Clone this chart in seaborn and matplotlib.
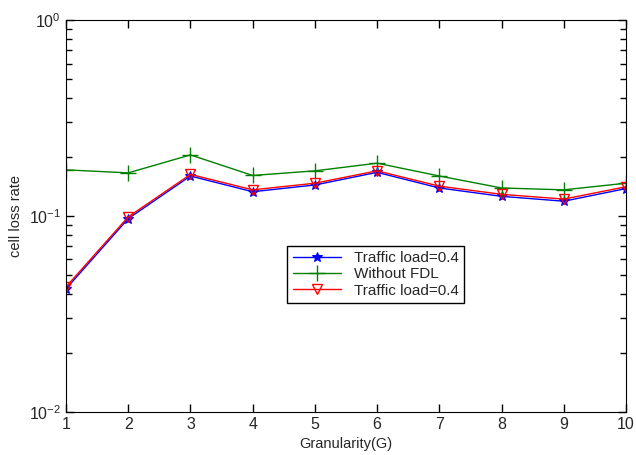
import numpy as np
import pandas as pd
import seaborn as sns
import matplotlib.pyplot as plt
from matplotlib.ticker import FixedLocator, NullFormatter

# data
granularity = [1, 2, 3, 4, 5, 6, 7, 8, 9, 10]
load_blue = [0.0425, 0.097, 0.160, 0.133, 0.144, 0.167, 0.139, 0.126, 0.119, 0.138]
without_fdl = [0.172, 0.166, 0.205, 0.161, 0.170, 0.186, 0.160, 0.139, 0.136, 0.147]
load_red = [0.0435, 0.099, 0.163, 0.136, 0.147, 0.170, 0.142, 0.129, 0.122, 0.141]

df = pd.DataFrame({'G': granularity, 'blue': load_blue,
                   'green': without_fdl, 'red': load_red})

sns.set_style('ticks')
plt.rcParams['font.family'] = ['Liberation Sans', 'DejaVu Sans']

fig = plt.figure(figsize=(6.36, 4.55), dpi=100)
ax = fig.add_axes([0.1038, 0.0945, 0.8805, 0.8615])

sns.lineplot(data=df, x='G', y='blue', ax=ax, color='blue', marker='*',
             markersize=7, markeredgecolor='blue', markeredgewidth=0.8,
             linewidth=1, label='Traffic load=0.4')
sns.lineplot(data=df, x='G', y='green', ax=ax, color='green', marker='+',
             markersize=11, markeredgecolor='green', markeredgewidth=1,
             linewidth=1, label='Without FDL')
sns.lineplot(data=df, x='G', y='red', ax=ax, color='red', marker='v',
             markersize=6.5, markerfacecolor='none', markeredgecolor='red',
             markeredgewidth=1, linewidth=1, label='Traffic load=0.4')

ax.set_yscale('log')
ax.set_ylim(1e-2, 1)
ax.set_xlim(1, 10)
ax.set_xticks(granularity)
ax.yaxis.set_major_locator(FixedLocator([1e-2, 1e-1, 1e0]))
minor = [k * 10.0 ** e for e in (-2, -1) for k in range(2, 10)]
ax.yaxis.set_minor_locator(FixedLocator(minor))
ax.yaxis.set_minor_formatter(NullFormatter())
ax.set_xlabel('Granularity(G)', fontsize=10.5)
ax.set_ylabel('cell loss rate', fontsize=10.5)
ax.tick_params(which='both', direction='in', bottom=True, left=True,
               top=True, right=True, labelsize=11.5, color='black')
ax.tick_params(which='major', length=6, width=1)
ax.tick_params(which='minor', length=4, width=1)
for s in ax.spines.values():
    s.set_color('black')
    s.set_linewidth(0.8)

handles, labels = ax.get_legend_handles_labels()
ax.legend(handles, labels, loc='lower left', bbox_to_anchor=(0.395, 0.278),
          borderaxespad=0, fancybox=False, edgecolor='black', framealpha=1,
          fontsize=11, handlelength=3.2, labelspacing=0.15, borderpad=0.35,
          handletextpad=0.8)

fig.savefig('out.png', dpi=100)
